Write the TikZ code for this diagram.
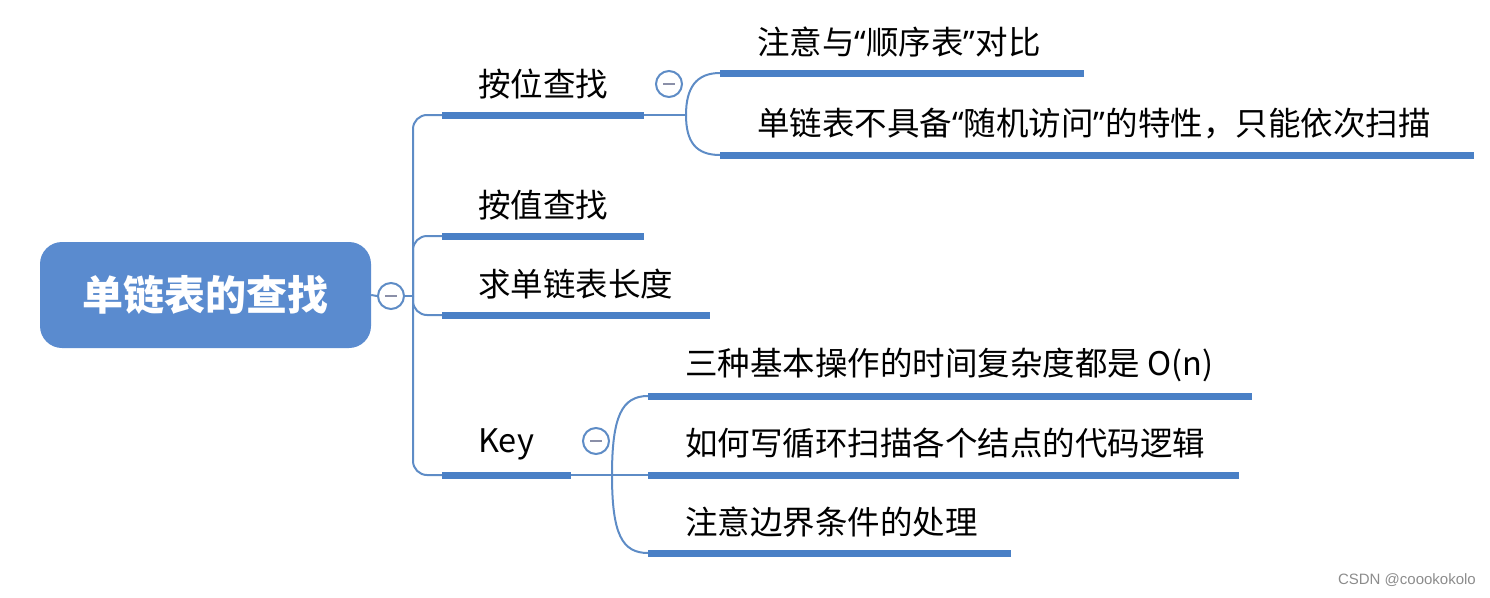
\documentclass[tikz,border=0pt]{standalone}
\usepackage{fontspec}
\newfontfamily\cjk{Noto Sans CJK SC}
\newfontfamily\lat{Noto Sans}
\newfontfamily\wm{Liberation Sans}
\newcommand{\myLQ}{{\lat “}}
\newcommand{\myRQ}{{\lat ”}}
\definecolor{rootblue}{HTML}{5A8BCF}
\definecolor{barblue}{HTML}{4A80C6}
\definecolor{lineblue}{HTML}{5E8CC6}
\definecolor{minusgray}{HTML}{8A8FA8}
\tikzset{
  bar/.style={fill=barblue, draw=none, minimum height=7pt, inner sep=0pt, anchor=west},
  link/.style={draw=lineblue, line width=2pt},
  lbl/.style={anchor=west, inner sep=0pt, font=\cjk\fontsize{32.5}{32.5}\selectfont, text=black},
  fold/.style={circle, draw=lineblue, line width=2pt, fill=white, minimum size=26pt, inner sep=0pt},
}
\newcommand{\minusmark}[1]{\draw[minusgray, line width=2pt] ($(#1)+(-6,0)$) -- ($(#1)+(6,0)$);}
\usetikzlibrary{calc}
\begin{document}
\begin{tikzpicture}[x=1pt,y=-1pt]
\useasboundingbox (0,0) rectangle (1490,597);
% root
\node[fill=rootblue, rounded corners=22pt, minimum width=331pt, minimum height=106pt, inner sep=0pt,
      text=white, font=\cjk\bfseries\fontsize{41}{41}\selectfont] (root) at (205.5,295) {单链表的查找};
\node[fold] (c0) at (391,296) {};
\minusmark{c0}
\coordinate (tr) at (413,296);
% level-1 bars
\node[bar, minimum width=202pt] (b1) at (442,115) {};
\node[bar, minimum width=202pt] (b2) at (442,236) {};
\node[bar, minimum width=268pt] (b3) at (442,315) {};
\node[bar, minimum width=129pt] (b4) at (442,475) {};
\node[lbl] (t1) at (478,84) {按位查找};
\node[lbl] (t2) at (478,205) {按值查找};
\node[lbl] (t3) at (478,284) {求单链表长度};
\node[lbl] (t4) at (478,444) {Key};
% trunk
\draw[link] (root.east) -- (c0.west);
\draw[link] (c0.east) -- (tr);
\draw[link, rounded corners=14pt] (tr) |- (b1.west);
\draw[link, rounded corners=14pt] (tr) |- (b2.west);
\draw[link, rounded corners=14pt] (tr) |- (b3.west);
\draw[link, rounded corners=14pt] (tr) |- (b4.west);
% 按位查找 children
\node[fold] (c1) at (669,84) {};
\minusmark{c1}
\coordinate (j1) at (686,115);
\node[bar, minimum width=364pt] (d1) at (720,73) {};
\node[bar, minimum width=754pt] (d2) at (720,155) {};
\node[lbl] (u1) at (757,42) {注意与\myLQ 顺序表\myRQ 对比};
\node[lbl] (u2) at (757,124) {单链表不具备\myLQ 随机访问\myRQ 的特性，只能依次扫描};
\draw[link] (b1.east) -- (j1);
\draw[link] (j1) .. controls (686,88) and (696,73) .. (d1.west);
\draw[link] (j1) .. controls (686,142) and (696,155) .. (d2.west);
% Key children
\node[fold] (c4) at (596,441) {};
\minusmark{c4}
\coordinate (j4) at (612,475);
\node[bar, minimum width=604pt] (k1) at (648,396) {};
\node[bar, minimum width=591pt] (k2) at (648,475) {};
\node[bar, minimum width=363pt] (k3) at (648,553) {};
\node[lbl] (v1) at (685,365) {三种基本操作的时间复杂度都是 O(n)};
\node[lbl] (v2) at (685,443) {如何写循环扫描各个结点的代码逻辑};
\node[lbl] (v3) at (685,522) {注意边界条件的处理};
\draw[link] (b4.east) -- (j4);
\draw[link] (j4) .. controls (612,416) and (622,396) .. (k1.west);
\draw[link] (j4) -- (k2.west);
\draw[link] (j4) .. controls (612,534) and (622,553) .. (k3.west);
% watermark
\node[anchor=east, inner sep=0pt, text=black!45, font=\wm\fontsize{15}{15}\selectfont] (wm) at (1476,580) {CSDN @coookokolo};
\end{tikzpicture}
\end{document}
